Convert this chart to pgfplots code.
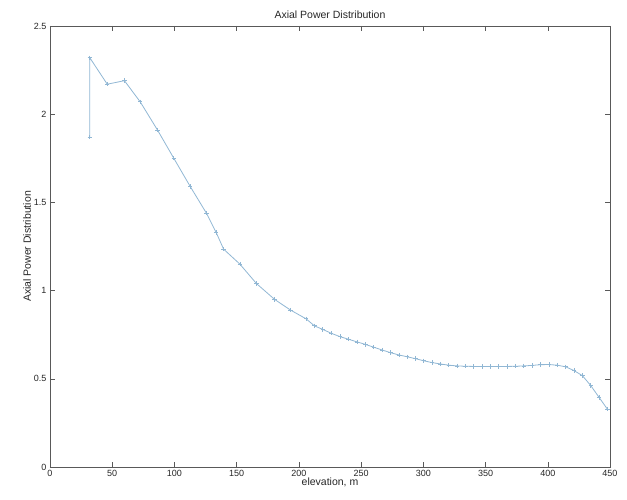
\documentclass[border=0pt]{standalone}
\usepackage{fontspec}
\setmainfont{Liberation Sans}
\usepackage{pgfplots}
\pgfplotsset{compat=1.18}
\definecolor{mlblue}{RGB}{145,183,212}
\begin{document}
\begin{tikzpicture}
\path[use as bounding box] (-50pt,-33pt) rectangle (577pt,467pt);
\begin{axis}[
  at={(0pt,0pt)}, anchor=origin,
  scale only axis, width=560pt, height=441pt,
  xmin=0, xmax=450, ymin=0, ymax=2.5,
  xtick={0,50,...,450}, ytick={0,0.5,...,2.5},
  yticklabels={0,0.5,1,1.5,2,2.5},
  tick align=inside, tick pos=both,
  major tick length=5pt,
  axis line style={black!65},
  every tick/.style={black!65},
  tick label style={font=\fontsize{9}{10}\selectfont, text=black!85},
  /pgf/number format/assume math mode=true,
  title={Axial Power Distribution},
  title style={font=\fontsize{10.5}{12}\selectfont, text=black!85, yshift=-2pt},
  xlabel={elevation, m},
  ylabel={Axial Power Distribution},
  label style={font=\fontsize{10.5}{12}\selectfont, text=black!85},
  xlabel style={yshift=6pt},
  ylabel style={yshift=-4pt},
]
\addplot[mlblue, line width=0.8pt, mark=+, mark size=2.2pt] coordinates {
(32,1.87) (32,2.32) (46,2.17) (59.8,2.19) (72.5,2.07) (86.4,1.91)
(99.5,1.75) (112.7,1.59) (125.6,1.44) (133.5,1.33) (139.5,1.235)
(152.6,1.15) (165.9,1.04) (180.5,0.95) (193.2,0.89) (205.8,0.84)
(212.5,0.80) (219.2,0.78) (226,0.758) (233,0.739) (240,0.724)
(246.8,0.709) (253.5,0.695) (260.2,0.679) (267,0.663) (273.7,0.648)
(280.4,0.635) (287,0.625) (293.7,0.614) (300.4,0.602) (307,0.592)
(313.8,0.584) (320.5,0.577) (327.2,0.573) (334,0.571) (340.6,0.570)
(347.3,0.570) (354,0.570) (360.7,0.570) (367.4,0.570) (374,0.571)
(380.8,0.573) (387.5,0.576) (394.2,0.580) (401,0.581) (407.6,0.577)
(414.4,0.568) (421,0.547) (427.8,0.518) (434.5,0.462) (441.2,0.395)
(447.9,0.328)
};
\end{axis}
\end{tikzpicture}
\end{document}
